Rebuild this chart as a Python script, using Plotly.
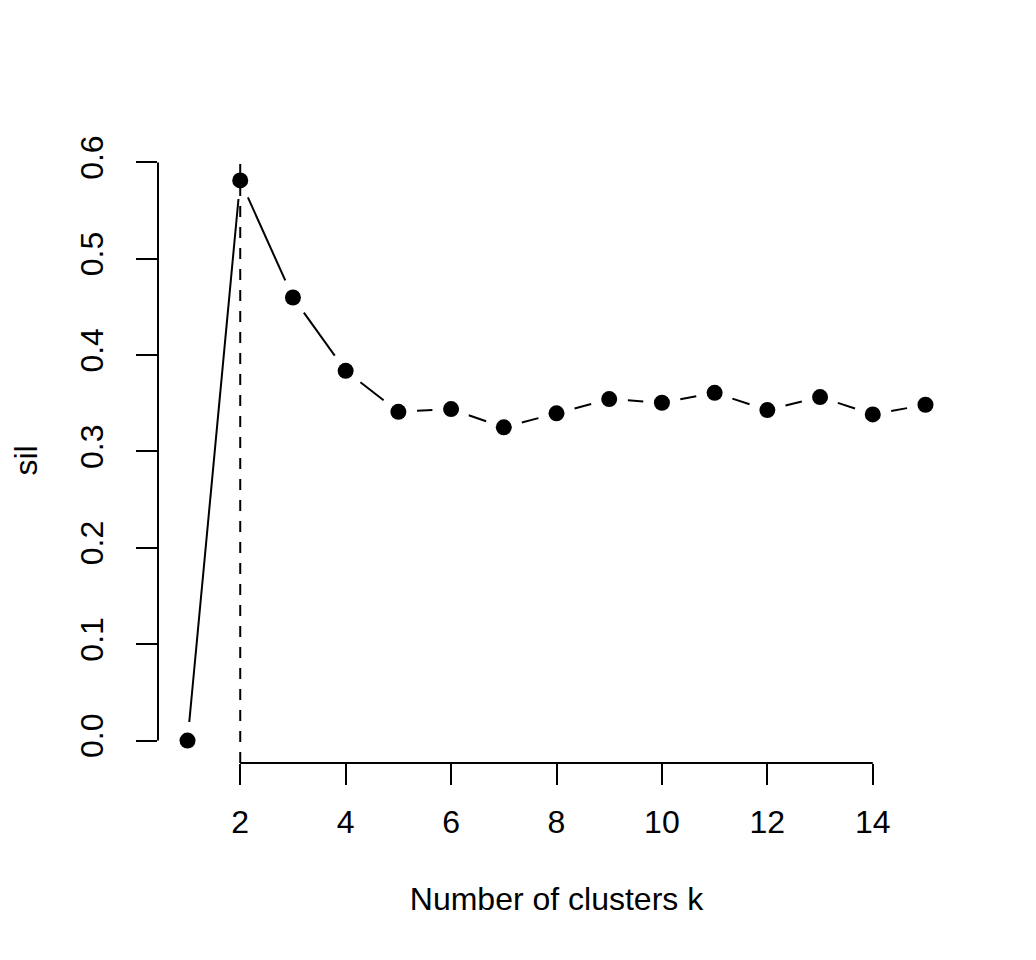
import plotly.graph_objects as go
import numpy as np

# ---- data ----
k_values = [1, 2, 3, 4, 5, 6, 7, 8, 9, 10, 11, 12, 13, 14, 15]
sil = [0.0, 0.5813, 0.4598, 0.3837, 0.3412, 0.3440, 0.3251, 0.3396,
       0.3544, 0.3506, 0.3609, 0.3430, 0.3565, 0.3385, 0.3485]
x_ticks = [2, 4, 6, 8, 10, 12, 14]
y_ticks = [0.0, 0.1, 0.2, 0.3, 0.4, 0.5, 0.6]
y_tick_labels = ["0.0", "0.1", "0.2", "0.3", "0.4", "0.5", "0.6"]
x_title = "Number of clusters k"
y_title = "sil"

# ---- layout geometry (page has an 8px body margin) ----
W_FIG, H_FIG = 1036, 960
M_L, M_R, M_T, M_B = 150, 89, 150, 205
W = W_FIG - M_L - M_R
H = H_FIG - M_T - M_B

def padded(vals):
    lo, hi = min(vals), max(vals)
    d = (hi - lo) * 0.04
    return [lo - d, hi + d]

xr = padded(k_values)
yr = padded(sil)

# R type="b": line segments with gaps around points (gap in pixels)
GAP = 18.7
def to_px(x, y):
    return ((x - xr[0]) / (xr[1] - xr[0]) * W, (y - yr[0]) / (yr[1] - yr[0]) * H)
def from_px(px, py):
    return (xr[0] + px / W * (xr[1] - xr[0]), yr[0] + py / H * (yr[1] - yr[0]))

seg_x, seg_y = [], []
for i in range(len(k_values) - 1):
    ax, ay = to_px(k_values[i], sil[i])
    bx, by = to_px(k_values[i + 1], sil[i + 1])
    d = np.hypot(bx - ax, by - ay)
    if d <= 2 * GAP:
        continue
    ux, uy = (bx - ax) / d, (by - ay) / d
    s = from_px(ax + ux * GAP, ay + uy * GAP)
    e = from_px(bx - ux * GAP, by - uy * GAP)
    seg_x += [s[0], e[0], None]
    seg_y += [s[1], e[1], None]

FONT = dict(family="Liberation Sans, Arial, Helvetica, sans-serif", size=32, color="black")

fig = go.Figure()
fig.add_trace(go.Scatter(x=seg_x, y=seg_y, mode="lines",
                         line=dict(color="black", width=2), hoverinfo="skip",
                         showlegend=False))
fig.add_trace(go.Scatter(x=k_values, y=sil, mode="markers",
                         marker=dict(color="black", size=16, line=dict(width=0)),
                         showlegend=False))

k_best = k_values[int(np.argmax(sil))]
fig.add_shape(type="line", xref="x", yref="paper", x0=k_best, x1=k_best, y0=0, y1=1,
              line=dict(color="black", width=2, dash="11px,10px"))
# R-style axis lines spanning the tick range only
fig.add_shape(type="line", xref="x", yref="paper", x0=min(x_ticks), x1=max(x_ticks),
              y0=0, y1=0, line=dict(color="black", width=2))
fig.add_shape(type="line", xref="paper", yref="y", x0=0, x1=0,
              y0=min(y_ticks), y1=max(y_ticks), line=dict(color="black", width=2))

fig.update_layout(
    width=W_FIG, height=H_FIG,
    margin=dict(l=M_L, r=M_R, t=M_T, b=M_B),
    paper_bgcolor="white", plot_bgcolor="white",
    font=FONT,
    xaxis=dict(range=xr, tickvals=x_ticks, ticktext=[str(v) for v in x_ticks],
               showgrid=False, zeroline=False, showline=False,
               ticks="outside", ticklen=21, tickwidth=2, tickcolor="black",
               ticklabelstandoff=10,
               title=dict(text=x_title, standoff=48, font=FONT)),
    yaxis=dict(range=yr, tickvals=y_ticks, ticktext=y_tick_labels,
               showgrid=False, zeroline=False, showline=False,
               ticks="outside", ticklen=21, tickwidth=2, tickcolor="black",
               tickangle=-90, ticklabelstandoff=20,
               title=dict(text=y_title, standoff=28, font=FONT)),
)

fig.write_html("out.html")
